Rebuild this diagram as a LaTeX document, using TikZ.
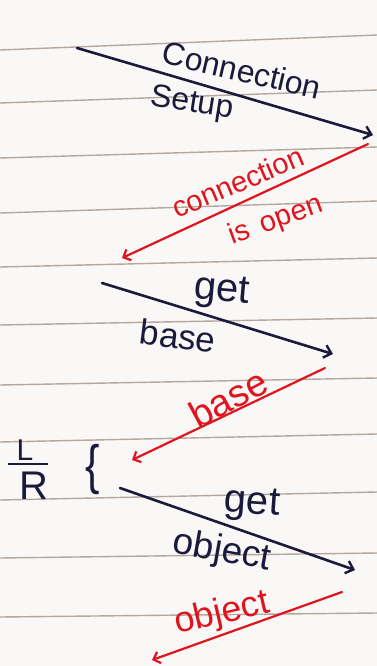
\documentclass[tikz,border=0pt]{standalone}
\usepackage{fontspec}
\setmainfont{Liberation Sans}
\usetikzlibrary{arrows.meta}
\definecolor{ink}{HTML}{1A1B3C}
\definecolor{redink}{HTML}{E0141E}
\definecolor{rule}{HTML}{B3A89E}
\definecolor{paper}{HTML}{FAF8F6}
\tikzset{
  ruleline/.style={draw=rule, line width=1.4pt},
  blackmsg/.style={draw=ink, line width=2.6pt, line cap=round, -{Straight Barb[length=7pt,width=13pt,line width=2.4pt]}},
  redmsg/.style={draw=redink, line width=2.2pt, line cap=round, -{Straight Barb[length=6pt,width=12pt,line width=2.2pt]}},
  blacklbl/.style={text=ink, inner sep=0pt},
  redlbl/.style={text=redink, inner sep=0pt},
}
\newcommand{\fsz}[1]{\fontsize{#1}{#1}\selectfont}
\begin{document}
\begin{tikzpicture}[x=1pt,y=1pt]
\useasboundingbox (0,0) rectangle (377,-666);
\fill[paper] (0,0) rectangle (377,-666);
% ruled lines
\foreach \l/\r in {50/35, 103/90, 158/147, 213/201, 267/258, 325/318, 385/378, 442/434, 500/492, 558/553, 617/613}{
  \draw[ruleline] (0,-\l) -- (377,-\r);
}
% message 1
\coordinate (a1s) at (77,-48);
\coordinate (a1e) at (373,-135);
\draw[blackmsg] (a1s) -- (a1e);
\node[blacklbl, rotate=-13, font=\fsz{32}] (t1a) at (242,-70) {Connection};
\node[blacklbl, rotate=-9, font=\fsz{32}] (t1b) at (192,-104) {Setup};
% reply 1
\coordinate (r1s) at (368,-144);
\coordinate (r1e) at (122,-258);
\draw[redmsg] (r1s) -- (r1e);
\node[redlbl, rotate=23, font=\fsz{29}] (u1a) at (238,-182) {connection};
\node[redlbl, rotate=20, font=\fsz{29}] (u1b) at (276,-221) {is\hspace{12pt}open};
% message 2
\coordinate (a2s) at (102,-283);
\coordinate (a2e) at (333,-354);
\draw[blackmsg] (a2s) -- (a2e);
\node[blacklbl, rotate=-5, font=\fsz{40}] (t2a) at (222,-292) {get};
\node[blacklbl, rotate=-7, font=\fsz{35}] (t2b) at (178,-336) {base};
% reply 2
\coordinate (r2s) at (325,-368);
\coordinate (r2e) at (132,-460);
\draw[redmsg] (r2s) -- (r2e);
\node[redlbl, rotate=28, font=\fsz{38}] (u2) at (228,-398) {base};
% L / R with brace
\node[text=ink, font=\fsz{30}, inner sep=0pt] (L) at (25,-450) {L};
\node[text=ink, font=\fsz{40}, inner sep=0pt] (R) at (34,-486) {R};
\draw[ink, line width=2pt] (8,-464) coordinate (fb1) -- (48,-464) coordinate (fb2);
\node[text=ink, font=\fsz{54}, inner sep=0pt, xscale=0.8] (br) at (93,-470) {\{};
% message 3
\coordinate (a3s) at (120,-488);
\coordinate (a3e) at (355,-570);
\draw[blackmsg] (a3s) -- (a3e);
\node[blacklbl, rotate=-4, font=\fsz{40}] (t3a) at (252,-505) {get};
\node[blacklbl, rotate=-10, font=\fsz{37}] (t3b) at (222,-552) {object};
% reply 3
\coordinate (r3s) at (342,-592);
\coordinate (r3e) at (152,-660);
\draw[redmsg] (r3s) -- (r3e);
\node[redlbl, rotate=13, font=\fsz{36}] (u3) at (222,-614) {object};
\end{tikzpicture}
\end{document}
